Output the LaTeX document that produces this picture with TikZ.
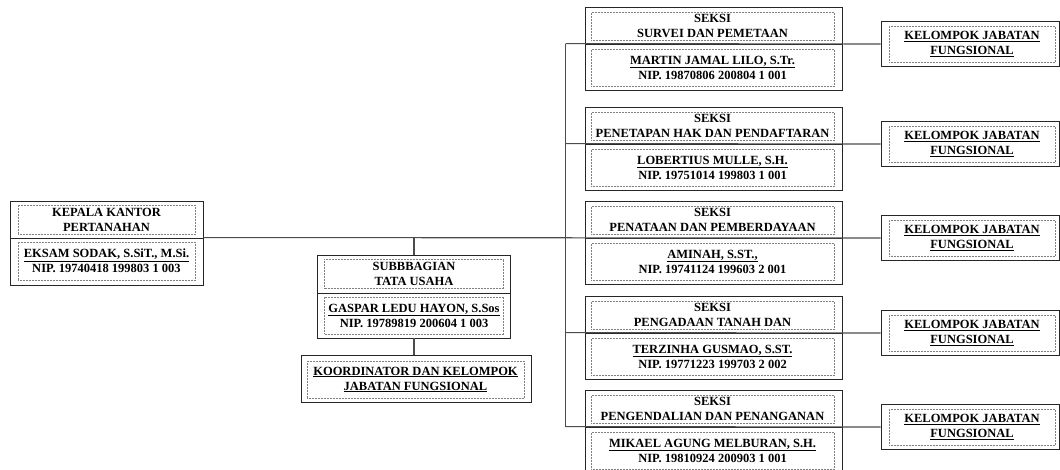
\documentclass[tikz,border=0pt]{standalone}
\usepackage{fontspec}
\setmainfont{Liberation Serif}
\begin{document}
\begin{tikzpicture}[x=1pt,y=-1pt,
  outerbox/.style={draw=black!85, line width=0.9pt, rectangle, inner sep=0pt},
  innerbox/.style={draw=black!50, densely dotted, line width=0.5pt, rectangle, inner sep=0pt, align=center,
    font=\fontsize{12.5}{15}\selectfont\bfseries},
  conn/.style={draw=black!70, line width=1.1pt}]
\useasboundingbox (0,0) rectangle (1060,469);
\fill[white] (0,0) rectangle (1060,469);

\newcommand\mkseksi[5]{%
  \node[outerbox, minimum width=257, minimum height=37] (#1t) at (713.5,{#2+18.5}) {};
  \node[outerbox, minimum width=257, minimum height=46] (#1b) at (713.5,{#2+60}) {};
  \node[innerbox, minimum width=243, minimum height=28] (#1ti) at (712.5,{#2+19}) {SEKSI\\#3};
  \node[innerbox, minimum width=243, minimum height=37] (#1bi) at (712.5,{#2+60.5}) {\underline{#4}\\NIP. #5};
}
\newcommand\mkkjf[2]{%
  \node[outerbox, minimum width=178, minimum height=45] (#1) at (970,#2) {};
  \node[innerbox, minimum width=166, minimum height=36] (#1i) at (972,#2) {\underline{KELOMPOK JABATAN}\\\underline{FUNGSIONAL}};
}

% Kepala
\node[outerbox, minimum width=193, minimum height=37] (kepT) at (106.5,219.5) {};
\node[outerbox, minimum width=193, minimum height=47] (kepB) at (106.5,261.5) {};
\node[innerbox, minimum width=177, minimum height=29] (kepTi) at (106.5,219.5) {KEPALA KANTOR\\PERTANAHAN};
\node[innerbox, minimum width=177, minimum height=38] (kepBi) at (106.5,261) {\underline{EKSAM SODAK, S.SiT., M.Si.}\\NIP. 19740418 199803 1 003};

% Subbagian
\node[outerbox, minimum width=193, minimum height=38] (subT) at (414,274) {};
\node[outerbox, minimum width=193, minimum height=45] (subB) at (414,315.5) {};
\node[innerbox, minimum width=179, minimum height=29] (subTi) at (414,273.5) {SUBBBAGIAN\\TATA USAHA};
\node[innerbox, minimum width=179, minimum height=37] (subBi) at (414,315.5) {\underline{GASPAR LEDU HAYON, S.Sos}\\NIP. 19789819 200604 1 003};

% Koordinator
\node[outerbox, minimum width=230, minimum height=47] (koor) at (416,378.5) {};
\node[innerbox, minimum width=217, minimum height=37] (koori) at (415.5,379.5) {\underline{KOORDINATOR DAN KELOMPOK}\\\underline{JABATAN FUNGSIONAL}};

% Seksi
\mkseksi{sa}{7}{SURVEI DAN PEMETAAN}{MARTIN JAMAL LILO, S.Tr.}{19870806 200804 1 001}
\mkseksi{sb}{107}{PENETAPAN HAK DAN PENDAFTARAN}{LOBERTIUS MULLE, S.H.}{19751014 199803 1 001}
\mkseksi{sc}{201}{PENATAAN DAN PEMBERDAYAAN}{AMINAH, S.ST.,}{19741124 199603 2 001}
\mkseksi{sd}{296}{PENGADAAN TANAH DAN}{TERZINHA GUSMAO, S.ST.}{19771223 199703 2 002}
\mkseksi{se}{390}{PENGENDALIAN DAN PENANGANAN}{MIKAEL AGUNG MELBURAN, S.H.}{19810924 200903 1 001}

% KJF
\mkkjf{ka}{44}
\mkkjf{kb}{144}
\mkkjf{kc}{238}
\mkkjf{kd}{333}
\mkkjf{ke}{427}

% Connectors
\draw[conn] (kepB.north east) -- (kc.west);
\draw[conn] (kepB.north east -| subT.north) -- (subT.north);
\draw[conn] (subB.south) -- (subB.south |- koor.north);
\draw[conn] ([xshift=-19pt]sab.north west) -- ([xshift=-19pt]seb.north west);
\draw[conn] ([xshift=-19pt]sab.north west) -- (ka.west);
\draw[conn] ([xshift=-19pt]sbb.north west) -- (kb.west);
\draw[conn] ([xshift=-19pt]sdb.north west) -- (kd.west);
\draw[conn] ([xshift=-19pt]seb.north west) -- (ke.west);
\end{tikzpicture}
\end{document}
